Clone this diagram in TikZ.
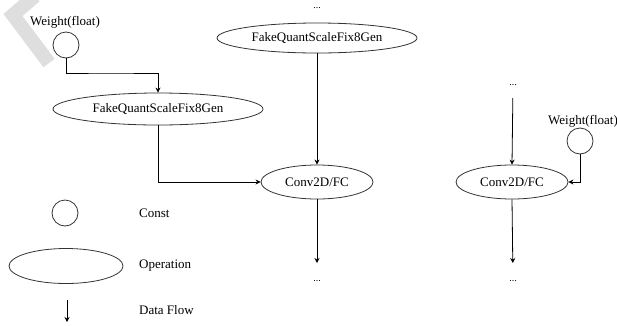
\documentclass[tikz,border=0pt]{standalone}
\usepackage{fontspec}
\setmainfont{Liberation Serif}
\usetikzlibrary{shapes.geometric, arrows.meta}

\begin{document}
\begin{tikzpicture}[x=1pt, y=-1pt,
    constStyle/.style={circle, draw=black!80, line width=0.8pt, minimum size=26pt, inner sep=0pt},
    opStyle/.style={ellipse, draw=black!80, line width=0.8pt, inner sep=0pt},
    textStyle/.style={font=\fontsize{13}{15}\selectfont, inner sep=1pt},
    dotStyle/.style={font=\fontsize{10}{12}\selectfont, inner sep=1pt},
    flow/.style={-{Stealth[length=5pt, width=5pt]}, line width=0.8pt}]
    \useasboundingbox (0,0) rectangle (617,325);
    % grey mark in the corner
    \draw[line width=14pt, color=black!13, miter limit=10] (35,-4) -- (13,15) -- (49,63);

    % left chain
    \node[textStyle](w1label) at (65,22) {Weight(float)};
    \node[constStyle](w1) at (66,45) {};
    \node[opStyle, textStyle, minimum width=210pt, minimum height=32pt](fq1) at (158,109) {FakeQuantScaleFix8Gen};
    \coordinate (bend1) at (110,73);

    % middle chain
    \node[dotStyle](t1) at (317,8) {...};
    \node[opStyle, textStyle, minimum width=200pt, minimum height=30pt](fq2) at (317,38) {FakeQuantScaleFix8Gen};
    \node[opStyle, textStyle, minimum width=112pt, minimum height=34pt](conv1) at (317,182) {Conv2D/FC};
    \node[dotStyle](b1) at (317,281) {...};

    % right chain
    \node[dotStyle](t2) at (513,85) {...};
    \node[opStyle, textStyle, minimum width=112pt, minimum height=34pt](conv2) at (512,182) {Conv2D/FC};
    \node[textStyle](w2label) at (583,121) {Weight(float)};
    \node[constStyle](w2) at (580,141) {};
    \node[dotStyle](b2) at (513,281) {...};

    % legend
    \node[constStyle](lconst) at (65,213) {};
    \node[textStyle, anchor=west](lconsttext) at (138,213) {Const};
    \node[opStyle, minimum width=114pt, minimum height=35pt](lop) at (66,266) {};
    \node[textStyle, anchor=west](loptext) at (138,266) {Operation};
    \coordinate (lflow1) at (67,300);
    \coordinate (lflow2) at (67,322);
    \node[textStyle, anchor=west](lflowtext) at (138,310) {Data Flow};

    \draw[flow] (w1.south) |- (bend1) -| (fq1.north);
    \draw[flow] (fq1.south) |- (conv1.west);
    \draw[flow] (fq2.south) -- (conv1.north);
    \draw[flow, shorten >=18pt] (conv1.south) -- (b1.center);
    \draw[flow, shorten <=13pt] (t2.center) -- (conv2.north);
    \draw[flow] (w2.south) |- (conv2.east);
    \draw[flow, shorten >=18pt] (conv2.south) -- (b2.center);
    \draw[flow] (lflow1) -- (lflow2);
\end{tikzpicture}
\end{document}
